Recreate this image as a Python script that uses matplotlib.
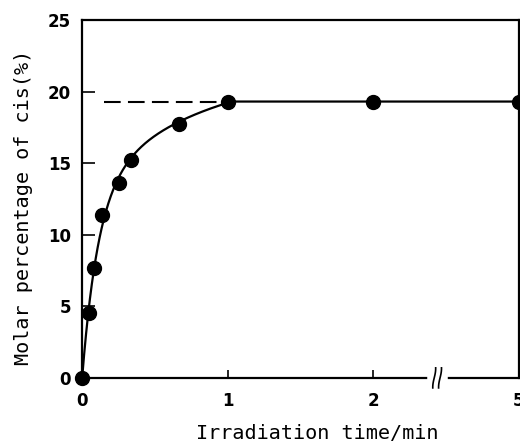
import numpy as np
import matplotlib.pyplot as plt

# irradiation time (min) and molar percentage of cis isomer (%)
t_min = [0, 0.05, 0.083, 0.133, 0.25, 0.333, 0.667, 1.0, 2.0, 5.0]
cis_pct = [0.0, 4.5, 7.7, 11.4, 13.6, 15.2, 17.7, 19.3, 19.3, 19.3]
plateau = 19.3

# broken x axis: 5 min is drawn at position 3
x_ticks = [0, 1, 2, 5]
x_tick_pos = [0, 1, 2, 3]
y_ticks = [0, 5, 10, 15, 20, 25]


def axis_pos(t):
    t = np.asarray(t, dtype=float)
    return np.where(t <= 2, t, 2 + (t - 2) / 3.0)


def model(t, A, a, k1, k2):
    y = A * (1 - a * np.exp(-k1 * t) - (1 - a) * np.exp(-k2 * t))
    return np.minimum(y, plateau)


def fit_curve(t, y):
    # grid search for a smooth guide line that levels off at the plateau
    t = np.asarray(t, float)
    y = np.asarray(y, float)
    A, a, k1, k2 = np.meshgrid(np.linspace(19.3, 22, 28), np.linspace(0.05, 0.95, 19),
                               np.linspace(5, 40, 36), np.linspace(0.5, 6, 23),
                               indexing="ij")
    pars = [p.ravel()[:, None] for p in (A, a, k1, k2)]
    err = np.sum((model(t[None, :], *pars) - y[None, :]) ** 2, axis=1)
    i = np.argmin(err)
    return [p[i, 0] for p in pars]


def main():
    fig = plt.figure(figsize=(5.2, 4.43), dpi=100)
    ax = fig.add_axes([0.158, 0.147, 0.840, 0.808])

    pars = fit_curve(t_min, cis_pct)
    ts = np.linspace(0, 5, 1500)
    ax.plot(axis_pos(ts), model(ts, *pars), color="black", linewidth=1.6, zorder=2)
    ax.plot([0.15, 1], [plateau, plateau], color="black", linewidth=1.5,
            dashes=(8, 3.5), zorder=1)
    ax.plot(axis_pos(t_min), cis_pct, "o", color="black", markersize=10,
            clip_on=False, zorder=3)

    ax.set_xlim(0, 3)
    ax.set_ylim(0, 25)
    ax.set_xticks(x_tick_pos)
    ax.set_xticklabels([str(v) for v in x_ticks])
    ax.set_yticks(y_ticks)
    ax.tick_params(axis="both", direction="in", width=1.2, labelsize=12)
    ax.tick_params(axis="x", length=6, pad=10)
    ax.tick_params(axis="y", length=9, pad=8)
    for lab in ax.get_xticklabels() + ax.get_yticklabels():
        lab.set_fontweight("bold")
    for sp in ax.spines.values():
        sp.set_linewidth(1.6)

    # axis break mark
    bx = 2.44
    ax.plot([bx - 0.05, bx + 0.05], [0, 0], color="white", linewidth=4,
            clip_on=False, zorder=4)
    yy = np.linspace(-0.7, 0.7, 30)
    for off in (-0.022, 0.018):
        ax.plot(bx + off + 0.01 * np.sin(yy * 2.4), yy, color="black",
                linewidth=1.2, clip_on=False, zorder=5)

    lab_font = dict(family="DejaVu Sans Mono", fontsize=14.5)
    ax.set_xlabel("Irradiation time/min", **lab_font)
    ax.set_ylabel("Molar percentage of cis(%)", **lab_font)
    ax.xaxis.set_label_coords(0.538, -0.155)
    ax.yaxis.set_label_coords(-0.135, 0.475)
    ax.xaxis.label.set_va("center")
    ax.yaxis.label.set_va("center")

    fig.savefig("out.png", dpi=100)


if __name__ == "__main__":
    main()
